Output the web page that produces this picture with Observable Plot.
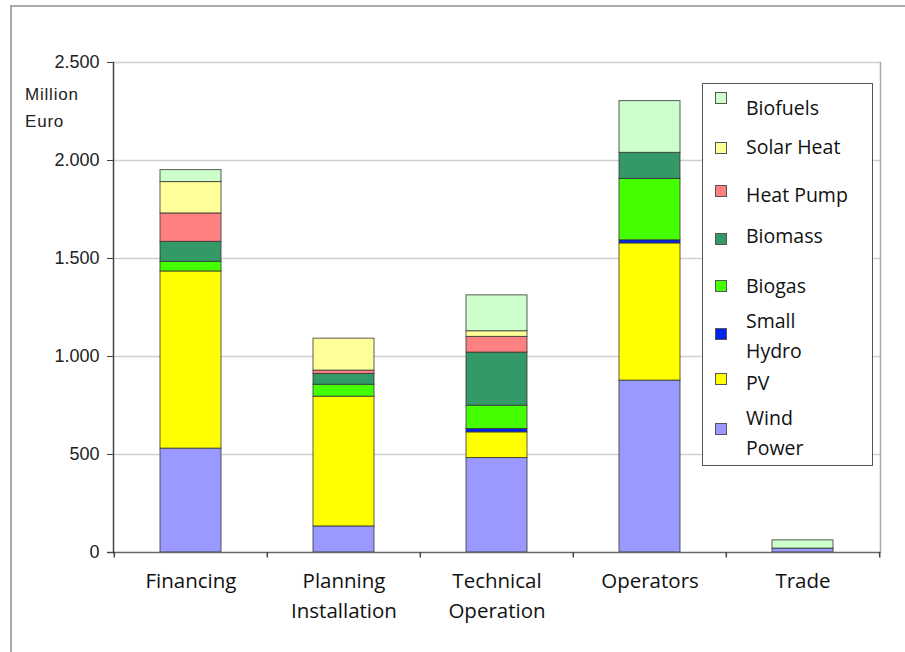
<!DOCTYPE html>
<html><head><meta charset="utf-8">
<script src="https://cdn.jsdelivr.net/npm/d3@7"></script>
<script src="https://cdn.jsdelivr.net/npm/@observablehq/plot@0.6"></script>
<style>
body{margin:0;background:#fff}
#wrap{position:relative;width:905px;height:652px;overflow:hidden;background:#fff}
#outer{position:absolute;left:10px;top:5px;width:1000px;height:1000px;border:2px solid #aaa}
#chart{position:absolute;left:0;top:0}
#ylab{position:absolute;left:25px;top:81px;font:17px "Liberation Sans",Arial,sans-serif;letter-spacing:0.8px;line-height:27px;color:#222}
#legend{position:absolute;left:702px;top:83px;width:169px;height:381px;border:1px solid #555;background:#fff;font-family:"Open Sans",sans-serif;font-size:19.5px;color:#111}
.sw{position:absolute;left:12px;width:10px;height:10px;border:1px solid #555}
.lt{position:absolute;left:43px;line-height:30px;white-space:pre}
</style></head>
<body><div id="wrap"><div id="outer"></div><div id="chart"></div>
<div id="ylab">Million<br>Euro</div>
<div id="legend"></div></div>
<script>
const categories = ["Financing","Planning\nInstallation","Technical\nOperation","Operators","Trade"];
const series = ["Wind Power","PV","Small Hydro","Biogas","Biomass","Heat Pump","Solar Heat","Biofuels"];
const colors = ["#9999ff","#ffff00","#0022ee","#44ff00","#339966","#ff8080","#ffff99","#ccffcc"];
const windPower = [530,133,482,877,20];
const pv = [904,662,131,700,0];
const smallHydro = [0,0,17,16,0];
const biogas = [49,61,119,313,0];
const biomass = [102,55,271,133,0];
const heatPump = [145,17,80,0,0];
const solarHeat = [160,163,29,0,0];
const biofuels = [61,0,183,264,42];
const yTicks = [0,500,1000,1500,2000,2500];

const values = [windPower,pv,smallHydro,biogas,biomass,heatPump,solarHeat,biofuels];
const data = [];
series.forEach((s,i)=>categories.forEach((c,j)=>{ if(values[i][j]>0) data.push({cat:c, series:s, value:values[i][j]}); }));

const W=905,H=652,mL=113,mR=25,mT=62,mB=100;
const bw=(W-mL-mR)/categories.length;
const fmt = d => d3.format(",")(d).replace(/,/g,".");

const chart = Plot.plot({
  width:W, height:H, marginLeft:mL, marginRight:mR, marginTop:mT, marginBottom:mB,
  style:{background:"transparent", fontFamily:"'Liberation Sans',Arial,sans-serif", fontSize:"15px", color:"#222", overflow:"visible"},
  x:{domain:categories, padding:0, axis:null, label:null},
  y:{domain:[0,2500], axis:null, label:null},
  color:{domain:series, range:colors},
  marks:[
    Plot.gridY(yTicks.slice(1), {stroke:"#d0d0d0", strokeOpacity:1, strokeWidth:1.5}),
    Plot.frame({anchor:"right", stroke:"#aaa", strokeWidth:1.5}),
    Plot.barY(data, Plot.stackY({x:"cat", y:"value", fill:"series", stroke:"#333", strokeWidth:1, strokeOpacity:0.8, insetLeft:46, insetRight:46})),
    Plot.ruleY([0], {stroke:"#666", strokeWidth:1.5, insetLeft:-6}),
    Plot.frame({anchor:"left", stroke:"#444", strokeWidth:1.5}),
    Plot.axisY({ticks:yTicks, tickFormat:fmt, tickSize:6, tickPadding:8, fontSize:18, stroke:"#444", fill:"#222"}),
    Plot.ruleX(categories, {x:d=>d, dx:-bw/2, y1:0, y2:-28, stroke:"#444", strokeWidth:1.5}),
    Plot.ruleX([categories[categories.length-1]], {x:d=>d, dx:bw/2, y1:0, y2:-28, stroke:"#444", strokeWidth:1.5}),
    Plot.axisX({tickSize:0, tickPadding:14, fontSize:20.5, lineHeight:1.47, fontFamily:"'Open Sans',sans-serif", fill:"#111"})
  ]
});
document.getElementById("chart").appendChild(chart);

// legend (top series first)
const legendRows = [
  {s:"Biofuels", sw:8, tx:9},
  {s:"Solar Heat", sw:58, tx:48},
  {s:"Heat Pump", sw:101, tx:96},
  {s:"Biomass", sw:149, tx:137},
  {s:"Biogas", sw:196, tx:187},
  {s:"Small Hydro", label:"Small\nHydro", sw:244, tx:222},
  {s:"PV", sw:289, tx:284},
  {s:"Wind Power", label:"Wind\nPower", sw:339, tx:319}
];
const lg = document.getElementById("legend");
legendRows.forEach(r=>{
  const sw=document.createElement("div"); sw.className="sw"; sw.style.top=r.sw+"px";
  sw.style.background=colors[series.indexOf(r.s)]; lg.appendChild(sw);
  const t=document.createElement("div"); t.className="lt"; t.style.top=r.tx+"px";
  t.textContent=r.label||r.s; lg.appendChild(t);
});
</script></body></html>
